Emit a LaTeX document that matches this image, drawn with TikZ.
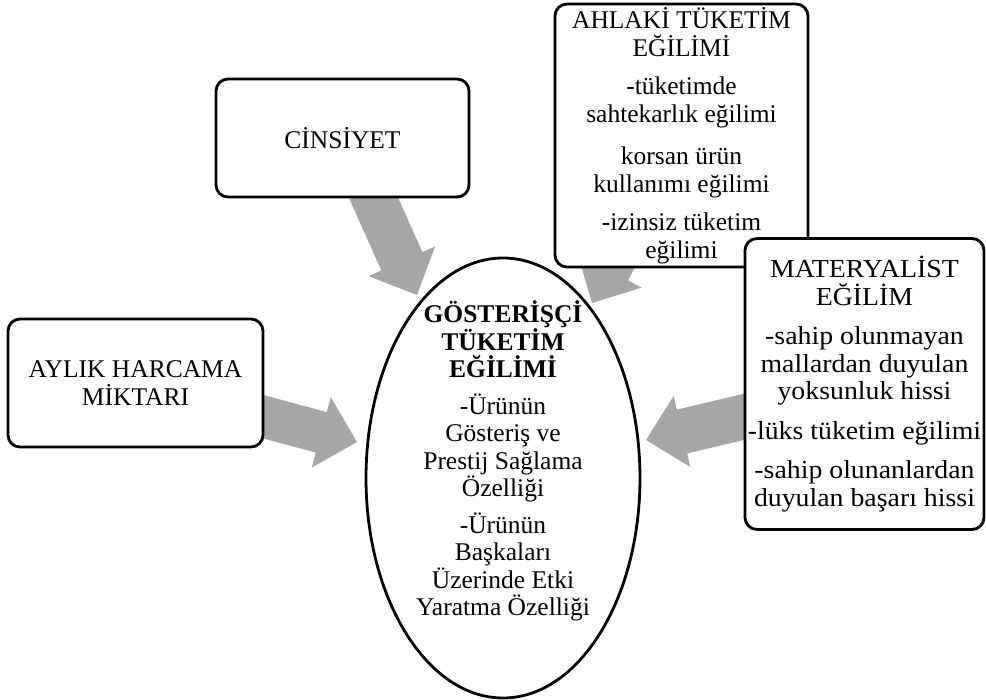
\documentclass[tikz,border=0pt]{standalone}
\usepackage{fontspec}
\setmainfont{Liberation Serif}
\newfontfamily\widefont{Liberation Serif}[FakeStretch=1.07]
\usetikzlibrary{calc,shapes.geometric}
\definecolor{arrowgray}{RGB}{166,166,166}
\tikzset{
  box/.style={draw=black, line width=2.8pt, rounded corners=12pt, fill=white,
    align=center, inner sep=0pt, font=\fontsize{25.5}{27.5}\selectfont},
  widebox/.style={box, font=\widefont\fontsize{26}{27.5}\selectfont},
  oval/.style={ellipse, draw=black, line width=2.8pt, inner sep=0pt},
  ovaltext/.style={align=center, inner sep=0pt, font=\fontsize{25.5}{27.5}\selectfont},
  fatarrow/.style={fill=arrowgray, draw=none}
}
% #1 start, #2 tip, #3 shaft half width, #4 head half width, #5 head length
\newcommand\bigarrowfill[5]{%
  \coordinate (ba-b) at ($(#2)!#5!(#1)$);
  \fill[fatarrow] ($(#1)!#3!90:(#2)$) -- ($(ba-b)!#3!90:(#2)$) -- ($(ba-b)!#4!90:(#2)$)
    -- (#2) -- ($(ba-b)!#4!-90:(#2)$) -- ($(ba-b)!#3!-90:(#2)$) -- ($(#1)!#3!-90:(#2)$) -- cycle;
}
\begin{document}
\begin{tikzpicture}[x=1pt,y=-1pt]
\useasboundingbox (0,0) rectangle (986,700);
% arrow end points
\coordinate (s1) at (370,190);  \coordinate (t1) at (417,295);
\coordinate (s2) at (255,414.5);\coordinate (t2) at (357,442);
\coordinate (s3) at (644,206);  \coordinate (t3) at (592,303);
\coordinate (s4) at (752,415);  \coordinate (t4) at (646,440);
\bigarrowfill{s1}{t1}{22.5pt}{36.5pt}{37pt}
\bigarrowfill{s2}{t2}{21pt}{36.5pt}{37pt}
\bigarrowfill{s3}{t3}{21pt}{36.5pt}{37pt}
\bigarrowfill{s4}{t4}{22.5pt}{36.5pt}{37pt}
% central ellipse
\node[oval, minimum width=274pt, minimum height=440pt] (cen) at (503,478) {};
\node[ovaltext] (centxt) at (503,461) {\textbf{GÖSTERİŞÇİ}\\\textbf{TÜKETİM}\\\textbf{EĞİLİMİ}\\[9pt]
  -Ürünün\\Gösteriş ve\\Prestij Sağlama\\Özelliği\\[9pt]
  -Ürünün\\Başkaları\\Üzerinde Etki\\Yaratma Özelliği};
% boxes
\node[box, minimum width=253pt, minimum height=118pt] (cin) at (342.5,138) {CİNSİYET};
\node[box, minimum width=255pt, minimum height=128pt] (ayl) at (135.5,383) {AYLIK HARCAMA\\MİKTARI};
\node[box, minimum width=253pt, minimum height=263pt] (ahl) at (681.5,135.5)
  {AHLAKİ TÜKETİM\\EĞİLİMİ\\[11pt]-tüketimde\\sahtekarlık eğilimi\\[15pt]korsan ürün\\kullanımı eğilimi\\[11pt]-izinsiz tüketim\\eğilimi};
\node[widebox, minimum width=239pt, minimum height=291pt] (mat) at (864.5,384)
  {MATERYALİST\\EĞİLİM\\[12pt]-sahip olunmayan\\mallardan duyulan\\yoksunluk hissi\\[12pt]-lüks tüketim eğilimi\\[12pt]-sahip olunanlardan\\duyulan başarı hissi};
\end{tikzpicture}
\end{document}
